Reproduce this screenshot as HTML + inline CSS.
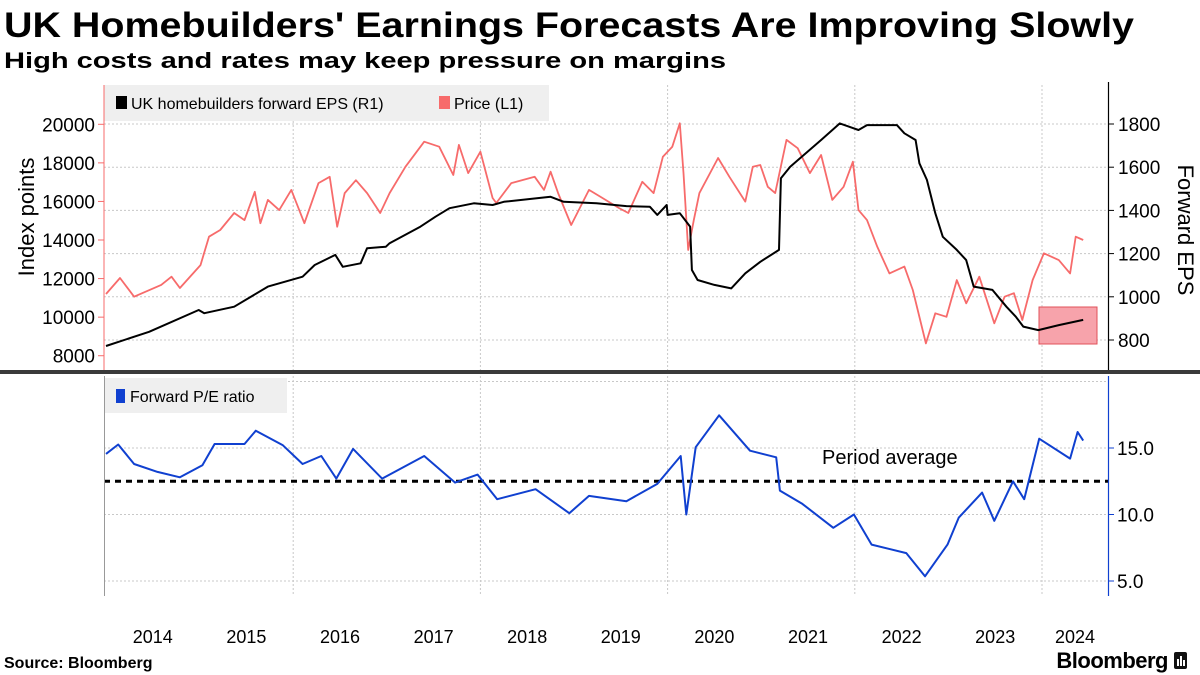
<!DOCTYPE html>
<html><head><meta charset="utf-8">
<style>
html,body{margin:0;padding:0;background:#fff;}
svg{display:block;font-family:"Liberation Sans",sans-serif;}
</style></head>
<body>
<svg id="chart" width="1200" height="675" viewBox="0 0 1200 675">
  <text x="4" y="37" font-size="35" font-weight="bold" textLength="1130" lengthAdjust="spacingAndGlyphs">UK Homebuilders' Earnings Forecasts Are Improving Slowly</text>
  <text x="4" y="68" font-size="22" font-weight="bold" textLength="722" lengthAdjust="spacingAndGlyphs">High costs and rates may keep pressure on margins</text>
  <g id="grid"></g>
  <g id="topPanel"></g>
  <g id="botPanel"></g>
  <g id="axes"></g>
  <text x="4" y="668" font-size="16" font-weight="bold">Source: Bloomberg</text>
  <text x="1168" y="668" font-size="22" font-weight="bold" text-anchor="end" letter-spacing="-0.5">Bloomberg</text>
  <g><rect x="1174" y="652" width="13" height="17" rx="2" fill="#111"/><rect x="1177" y="659" width="2" height="7" fill="#fff"/><rect x="1180" y="656" width="2" height="10" fill="#fff"/><rect x="1183" y="660" width="2" height="6" fill="#fff"/></g>
</svg>
<script>
const priceT=[2014.0,2014.15,2014.3,2014.59,2014.7,2014.79,2015.01,2015.1,2015.22,2015.37,2015.48,2015.59,2015.65,2015.73,2015.85,2015.98,2016.12,2016.27,2016.39,2016.47,2016.55,2016.67,2016.79,2016.93,2017.03,2017.2,2017.4,2017.56,2017.71,2017.77,2017.87,2018.0,2018.13,2018.17,2018.33,2018.58,2018.68,2018.75,2018.83,2018.97,2019.16,2019.28,2019.48,2019.58,2019.73,2019.85,2019.95,2020.05,2020.13,2020.17,2020.22,2020.28,2020.34,2020.54,2020.66,2020.83,2020.91,2020.99,2021.07,2021.15,2021.27,2021.39,2021.52,2021.64,2021.76,2021.88,2021.98,2022.04,2022.13,2022.24,2022.37,2022.53,2022.62,2022.76,2022.86,2022.98,2023.09,2023.19,2023.33,2023.49,2023.6,2023.7,2023.79,2023.9,2024.02,2024.18,2024.3,2024.36,2024.44];
const priceV=[11200,12030,11060,11670,12100,11510,12700,14170,14520,15400,15030,16500,14870,16080,15550,16600,14870,16950,17280,14690,16430,17100,16430,15400,16430,17800,19100,18840,17370,18930,17470,18580,16180,15920,16950,17280,16600,17540,16430,14780,16600,16250,15660,15400,17020,16430,18320,18840,20050,17470,13480,15030,16430,18250,17280,15990,17800,17890,16760,16430,19190,18760,17470,18410,16080,16760,18060,15550,15030,13650,12270,12620,11410,8640,10200,10020,11920,10720,12100,9680,11060,11240,9850,11920,13310,12960,12270,14170,14000];
const epsT=[2014.0,2014.46,2014.99,2015.05,2015.37,2015.73,2016.1,2016.23,2016.45,2016.53,2016.72,2016.79,2016.99,2017.03,2017.36,2017.52,2017.67,2017.93,2018.13,2018.25,2018.75,2018.89,2019.24,2019.56,2019.81,2019.89,2019.99,2020.0,2020.13,2020.24,2020.26,2020.32,2020.5,2020.68,2020.83,2020.99,2021.19,2021.21,2021.31,2021.64,2021.84,2022.04,2022.13,2022.45,2022.53,2022.65,2022.69,2022.77,2022.86,2022.94,2023.09,2023.19,2023.27,2023.47,2023.62,2023.72,2023.8,2023.96,2024.18,2024.44];
const epsV=[772,838,939,924,954,1047,1093,1147,1194,1139,1155,1225,1232,1248,1325,1371,1410,1433,1425,1440,1463,1440,1433,1420,1417,1379,1425,1379,1387,1325,1124,1078,1055,1039,1109,1162,1217,1549,1602,1726,1803,1772,1795,1795,1757,1726,1618,1541,1387,1278,1217,1170,1047,1032,954,908,862,846,869,893];
const peT=[2014.0,2014.13,2014.3,2014.55,2014.79,2015.03,2015.16,2015.48,2015.6,2015.89,2016.1,2016.3,2016.46,2016.64,2016.95,2017.4,2017.73,2017.97,2018.18,2018.59,2018.95,2019.16,2019.56,2019.89,2020.14,2020.2,2020.3,2020.55,2020.88,2021.16,2021.2,2021.44,2021.77,2021.99,2022.18,2022.55,2022.75,2022.99,2023.11,2023.36,2023.49,2023.69,2023.81,2023.97,2024.3,2024.38,2024.44];
const peV=[14.56,15.26,13.8,13.2,12.8,13.7,15.3,15.3,16.3,15.2,13.8,14.4,12.7,14.93,12.7,14.4,12.4,13.0,11.15,11.9,10.1,11.4,11.0,12.3,14.4,10.0,15.06,17.46,14.8,14.3,11.8,10.8,9.0,10.0,7.74,7.1,5.35,7.74,9.76,11.65,9.53,12.5,11.15,15.7,14.2,16.2,15.56];
const peAvg=12.5;
const leftTicks=[8000,10000,12000,14000,16000,18000,20000];
const rightTicks=[800,1000,1200,1400,1600,1800];
const peTicks=[5.0,10.0,15.0];
const years=[2014,2015,2016,2017,2018,2019,2020,2021,2022,2023,2024];

const NS="http://www.w3.org/2000/svg";
function mk(tag,attrs,parent,txt){const e=document.createElementNS(NS,tag);for(const k in attrs)e.setAttribute(k,attrs[k]);if(txt!==undefined)e.textContent=txt;parent.appendChild(e);return e;}
const X=t=>106+(t-2014)*93.6;
const YL=v=>124.3+(20000-v)/2000*38.57;
const YR=v=>124+(1800-v)*0.216;
const YP=v=>448+(15-v)*13.3;
const gridG=document.getElementById('grid'),topG=document.getElementById('topPanel'),botG=document.getElementById('botPanel'),axesG=document.getElementById('axes');

rightTicks.forEach(v=>{const l=mk('line',{x1:104,x2:1108,y1:YR(v),y2:YR(v),stroke:'#c8c8c8','stroke-dasharray':'2,2'},gridG);

});
[5,10,15,20].forEach(v=>{const l=mk('line',{x1:104,x2:1108,y1:YP(v),y2:YP(v),stroke:'#c8c8c8','stroke-dasharray':'2,2'},gridG);

});
[2016,2018,2020,2022,2024].forEach(y=>{[[85,370],[376,596]].forEach(r=>{const l=mk('line',{x1:X(y),x2:X(y),y1:r[0],y2:r[1],stroke:'#c8c8c8','stroke-dasharray':'2,2'},gridG);

});});

const lg=mk('rect',{x:104,y:85,width:445,height:36,fill:'#efefef'},topG);


const le1=mk('rect',{x:116,y:96,width:11,height:13,fill:'#000'},topG);


const lt1=mk('text',{x:131,y:109,'font-size':16},topG,'UK homebuilders forward EPS (R1)');


const le2=mk('rect',{x:439,y:96,width:11,height:13,fill:'#f76b6b'},topG);


const lt2=mk('text',{x:454,y:109,'font-size':16},topG,'Price (L1)');


const lg2=mk('rect',{x:105,y:378,width:182,height:35,fill:'#efefef'},botG);


const le3=mk('rect',{x:116,y:389,width:9,height:14,fill:'#1040d0'},botG);


const lt3=mk('text',{x:130,y:402,'font-size':16},botG,'Forward P/E ratio');



const hb=mk('rect',{x:1039,y:307,width:58,height:37,fill:'#f7a3ab',stroke:'#e0505a','stroke-width':1},topG);



function path(T,V,Y){return T.map((t,i)=>(i?'L':'M')+X(t).toFixed(1)+','+Y(V[i]).toFixed(1)).join('');}
const pl=mk('path',{d:path(priceT,priceV,YL),fill:'none',stroke:'#f76b6b','stroke-width':1.8,'stroke-linejoin':'round'},topG);


const el=mk('path',{d:path(epsT,epsV,YR),fill:'none',stroke:'#000','stroke-width':2,'stroke-linejoin':'round'},topG);


const al=mk('line',{x1:104,x2:1108,y1:YP(peAvg),y2:YP(peAvg),stroke:'#000','stroke-width':3,'stroke-dasharray':'6,5'},botG);


const at=mk('text',{x:822,y:464,'font-size':20},botG,'Period average');


const pe=mk('path',{d:path(peT,peV,YP),fill:'none',stroke:'#1040d0','stroke-width':2,'stroke-linejoin':'round'},botG);



const sep=mk('rect',{x:0,y:370,width:1200,height:4,fill:'#3a3a3a'},axesG);


const la=mk('line',{x1:104,x2:104,y1:85,y2:370,stroke:'#f76b6b','stroke-width':1},axesG);


const ra=mk('line',{x1:1108.5,x2:1108.5,y1:82,y2:370,stroke:'#000','stroke-width':1.2},axesG);


const la2=mk('line',{x1:104.5,x2:104.5,y1:376,y2:596,stroke:'#999','stroke-width':1},axesG);


const pa=mk('line',{x1:1108.5,x2:1108.5,y1:376,y2:596,stroke:'#1040d0','stroke-width':1.2},axesG);


leftTicks.forEach(v=>{const tk=mk('line',{x1:98,x2:104,y1:YL(v),y2:YL(v),stroke:'#f76b6b'},axesG);


const t=mk('text',{x:95,y:YL(v)+7,'font-size':19,'text-anchor':'end'},axesG,String(v));

});
rightTicks.forEach(v=>{const tk=mk('line',{x1:1108,x2:1114,y1:YR(v),y2:YR(v),stroke:'#000'},axesG);


const t=mk('text',{x:1118,y:YR(v)+7,'font-size':19},axesG,String(v));

});
peTicks.forEach(v=>{const tk=mk('line',{x1:1108,x2:1114,y1:YP(v),y2:YP(v),stroke:'#1040d0'},axesG);


const t=mk('text',{x:1117,y:YP(v)+7,'font-size':19},axesG,v.toFixed(1));

});
years.forEach(y=>{const cx=Math.min(X(y+0.5),1075);
const t=mk('text',{x:cx,y:643,'font-size':18,'text-anchor':'middle'},axesG,String(y));

});
const yt=mk('text',{x:0,y:0,'font-size':22,'text-anchor':'middle',transform:'translate(34,217) rotate(-90)'},axesG,'Index points');


const yt2=mk('text',{x:0,y:0,'font-size':22,'text-anchor':'middle',transform:'translate(1178,230) rotate(90)'},axesG,'Forward EPS');


</script>
</body></html>
